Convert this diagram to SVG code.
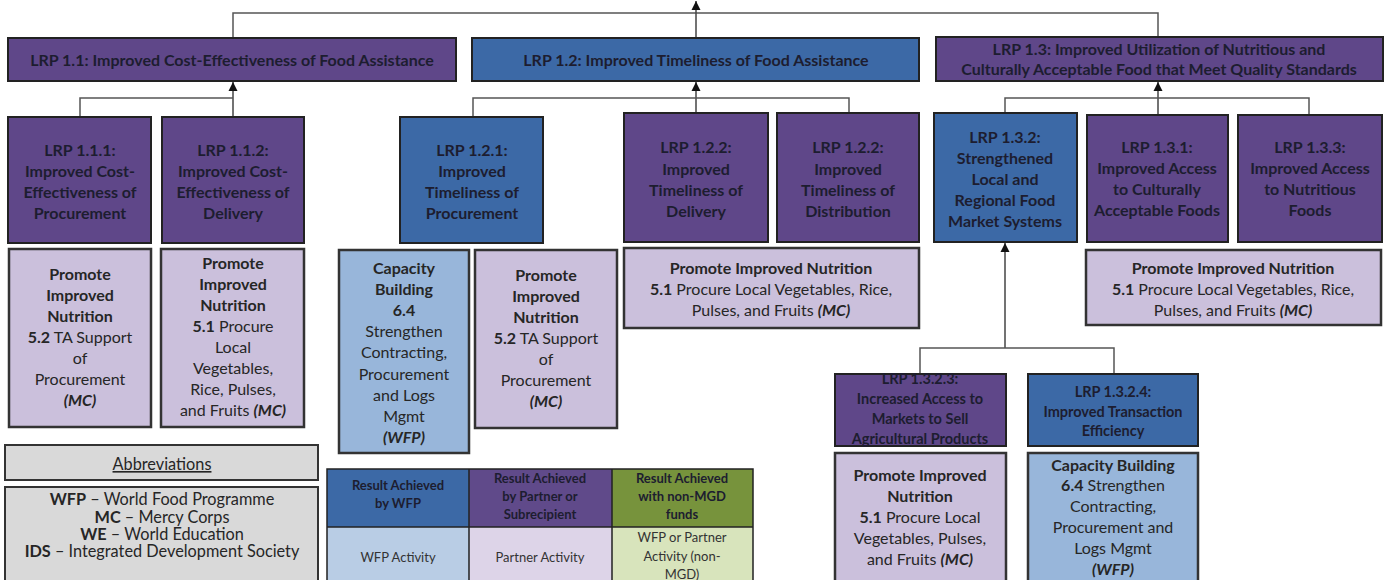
<svg xmlns="http://www.w3.org/2000/svg" width="1387" height="580" viewBox="0 0 1387 580">
<defs>
<marker id="arr" viewBox="0 0 10 10" refX="10" refY="5" markerWidth="9" markerHeight="10" markerUnits="userSpaceOnUse" orient="auto">
<path d="M0,0 L10,5 L0,10 z" fill="#111"/>
</marker>
<style>
text{font-family:Lato,"Liberation Sans",sans-serif;text-anchor:middle;fill:#1d1d30}
.b{font-weight:bold}
.bi{font-weight:bold;font-style:italic}
.l1{font-size:16px;font-weight:bold}
.l2{font-size:16px;font-weight:bold}
.l3{font-size:14.5px;font-weight:bold}
.act{font-size:16px;fill:#262626}
.abb{font-size:16.3px;fill:#262626}
.th{font-size:13px;font-weight:bold}
.td{font-size:13px;fill:#333}
.pur{fill:#5f4789;stroke:#222;stroke-width:2}
.blu{fill:#3c69a6;stroke:#222;stroke-width:2}
.lpur{fill:#cbc0dc;stroke:#333;stroke-width:2.5}
.lblu{fill:#98b6da;stroke:#333;stroke-width:2.5}
.gray{fill:#d9d9d9;stroke:#333;stroke-width:2}
.cn{fill:none;stroke:#555;stroke-width:1.5}
.ar{fill:none;stroke:#444;stroke-width:1.5;marker-end:url(#arr)}
</style>
</defs>
<rect width="1387" height="580" fill="#fff"/>

<g id="connectors">
<polyline class="cn" points="233,38 233,13 1158,13 1158,37"/>
<line class="ar" x1="696" y1="38" x2="696" y2="1"/>
<line class="ar" x1="233" y1="117" x2="233" y2="82"/>
<polyline class="cn" points="80,117 80,98 233,98"/>
<line class="ar" x1="696" y1="113" x2="696" y2="82"/>
<polyline class="cn" points="473,117 473,98 849,98 849,113"/>
<line class="ar" x1="1158" y1="115" x2="1158" y2="82"/>
<polyline class="cn" points="1005,113 1005,98 1309,98 1309,115"/>
<line class="ar" x1="1005" y1="348" x2="1005" y2="243"/>
<polyline class="cn" points="920,374 920,348 1114,348 1114,374"/>
</g>

<g id="lrp11">
<rect class="pur" x="8" y="38" width="448" height="43"/>
<text class="l1" x="232" y="66">LRP 1.1: Improved Cost-Effectiveness of Food Assistance</text>
</g>
<g id="lrp12">
<rect class="blu" x="472" y="38" width="447" height="43"/>
<text class="l1" x="696" y="66">LRP 1.2: Improved Timeliness of Food Assistance</text>
</g>
<g id="lrp13">
<rect class="pur" x="936" y="37" width="447" height="44"/>
<text class="l1" x="1159" y="55">LRP 1.3: Improved Utilization of Nutritious and</text>
<text class="l1" x="1159" y="75">Culturally Acceptable Food that Meet Quality Standards</text>
</g>

<g id="lrp111">
<rect class="pur" x="8" y="117" width="143" height="126"/>
<text class="l2" x="80" y="156">LRP 1.1.1:</text>
<text class="l2" x="80" y="177">Improved Cost-</text>
<text class="l2" x="80" y="198">Effectiveness of</text>
<text class="l2" x="80" y="219">Procurement</text>
</g>
<g id="lrp112">
<rect class="pur" x="162" y="117" width="142" height="126"/>
<text class="l2" x="233" y="156">LRP 1.1.2:</text>
<text class="l2" x="233" y="177">Improved Cost-</text>
<text class="l2" x="233" y="198">Effectiveness of</text>
<text class="l2" x="233" y="219">Delivery</text>
</g>
<g id="lrp121">
<rect class="blu" x="400" y="117" width="143" height="126"/>
<text class="l2" x="472" y="156">LRP 1.2.1:</text>
<text class="l2" x="472" y="177">Improved</text>
<text class="l2" x="472" y="198">Timeliness of</text>
<text class="l2" x="472" y="219">Procurement</text>
</g>
<g id="lrp122a">
<rect class="pur" x="624" y="113" width="144" height="129"/>
<text class="l2" x="696" y="153">LRP 1.2.2:</text>
<text class="l2" x="696" y="175">Improved</text>
<text class="l2" x="696" y="196">Timeliness of</text>
<text class="l2" x="696" y="217">Delivery</text>
</g>
<g id="lrp122b">
<rect class="pur" x="777" y="113" width="142" height="129"/>
<text class="l2" x="848" y="153">LRP 1.2.2:</text>
<text class="l2" x="848" y="175">Improved</text>
<text class="l2" x="848" y="196">Timeliness of</text>
<text class="l2" x="848" y="217">Distribution</text>
</g>
<g id="lrp132">
<rect class="blu" x="934" y="113" width="143" height="129"/>
<text class="l2" x="1005" y="143">LRP 1.3.2:</text>
<text class="l2" x="1005" y="164">Strengthened</text>
<text class="l2" x="1005" y="185">Local and</text>
<text class="l2" x="1005" y="206">Regional Food</text>
<text class="l2" x="1005" y="227">Market Systems</text>
</g>
<g id="lrp131">
<rect class="pur" x="1087" y="115" width="141" height="127"/>
<text class="l2" x="1157" y="153">LRP 1.3.1:</text>
<text class="l2" x="1157" y="174">Improved Access</text>
<text class="l2" x="1157" y="195">to Culturally</text>
<text class="l2" x="1157" y="216">Acceptable Foods</text>
</g>
<g id="lrp133">
<rect class="pur" x="1238" y="115" width="144" height="127"/>
<text class="l2" x="1310" y="153">LRP 1.3.3:</text>
<text class="l2" x="1310" y="174">Improved Access</text>
<text class="l2" x="1310" y="195">to Nutritious</text>
<text class="l2" x="1310" y="216">Foods</text>
</g>

<g id="act111">
<rect class="lpur" x="9" y="249" width="142" height="178"/>
<text class="act b" x="80" y="280">Promote</text>
<text class="act b" x="80" y="301">Improved</text>
<text class="act b" x="80" y="322">Nutrition</text>
<text class="act" x="80" y="343"><tspan class="b">5.2</tspan> TA Support</text>
<text class="act" x="80" y="364">of</text>
<text class="act" x="80" y="385">Procurement</text>
<text class="act bi" x="80" y="406">(MC)</text>
</g>
<g id="act112">
<rect class="lpur" x="161" y="249" width="143" height="178"/>
<text class="act b" x="233" y="269">Promote</text>
<text class="act b" x="233" y="290">Improved</text>
<text class="act b" x="233" y="311">Nutrition</text>
<text class="act" x="233" y="332"><tspan class="b">5.1</tspan> Procure</text>
<text class="act" x="233" y="353">Local</text>
<text class="act" x="233" y="374">Vegetables,</text>
<text class="act" x="233" y="395">Rice, Pulses,</text>
<text class="act" x="233" y="416">and Fruits <tspan class="bi">(MC)</tspan></text>
</g>
<g id="act121a">
<rect class="lblu" x="339" y="250" width="130" height="203"/>
<text class="act b" x="404" y="274">Capacity</text>
<text class="act b" x="404" y="295">Building</text>
<text class="act b" x="404" y="316">6.4</text>
<text class="act" x="404" y="337">Strengthen</text>
<text class="act" x="404" y="358">Contracting,</text>
<text class="act" x="404" y="380">Procurement</text>
<text class="act" x="404" y="401">and Logs</text>
<text class="act" x="404" y="422">Mgmt</text>
<text class="act bi" x="404" y="443">(WFP)</text>
</g>
<g id="act121b">
<rect class="lpur" x="475" y="250" width="142" height="178"/>
<text class="act b" x="546" y="281">Promote</text>
<text class="act b" x="546" y="302">Improved</text>
<text class="act b" x="546" y="323">Nutrition</text>
<text class="act" x="546" y="344"><tspan class="b">5.2</tspan> TA Support</text>
<text class="act" x="546" y="365">of</text>
<text class="act" x="546" y="386">Procurement</text>
<text class="act bi" x="546" y="407">(MC)</text>
</g>
<g id="act122">
<rect class="lpur" x="624" y="248" width="295" height="80"/>
<text class="act b" x="771" y="274">Promote Improved Nutrition</text>
<text class="act" x="771" y="295"><tspan class="b">5.1</tspan> Procure Local Vegetables, Rice,</text>
<text class="act" x="771" y="316">Pulses, and Fruits <tspan class="bi">(MC)</tspan></text>
</g>
<g id="act13">
<rect class="lpur" x="1086" y="250" width="295" height="75"/>
<text class="act b" x="1233" y="274">Promote Improved Nutrition</text>
<text class="act" x="1233" y="295"><tspan class="b">5.1</tspan> Procure Local Vegetables, Rice,</text>
<text class="act" x="1233" y="316">Pulses, and Fruits <tspan class="bi">(MC)</tspan></text>
</g>

<g id="lrp1323">
<rect class="pur" x="835" y="374" width="171" height="72"/>
<text class="l3" x="920" y="384">LRP 1.3.2.3:</text>
<text class="l3" x="920" y="404">Increased Access to</text>
<text class="l3" x="920" y="424">Markets to Sell</text>
<text class="l3" x="920" y="444">Agricultural Products</text>
</g>
<g id="lrp1324">
<rect class="blu" x="1028" y="374" width="170" height="72"/>
<text class="l3" x="1113" y="397">LRP 1.3.2.4:</text>
<text class="l3" x="1113" y="417">Improved Transaction</text>
<text class="l3" x="1113" y="436">Efficiency</text>
</g>
<g id="act1323">
<rect class="lpur" x="835" y="453" width="171" height="132"/>
<text class="act b" x="920" y="481">Promote Improved</text>
<text class="act b" x="920" y="502">Nutrition</text>
<text class="act" x="920" y="523"><tspan class="b">5.1</tspan> Procure Local</text>
<text class="act" x="920" y="544">Vegetables, Pulses,</text>
<text class="act" x="920" y="565">and Fruits <tspan class="bi">(MC)</tspan></text>
</g>
<g id="act1324">
<rect class="lblu" x="1028" y="453" width="170" height="132"/>
<text class="act b" x="1113" y="471">Capacity Building</text>
<text class="act" x="1113" y="491"><tspan class="b">6.4</tspan> Strengthen</text>
<text class="act" x="1113" y="512">Contracting,</text>
<text class="act" x="1113" y="533">Procurement and</text>
<text class="act" x="1113" y="554">Logs Mgmt</text>
<text class="act bi" x="1113" y="575">(WFP)</text>
</g>

<g id="abbrev-title">
<rect class="gray" x="5" y="445" width="313" height="35"/>
<text class="abb" x="162" y="470" text-decoration="underline">Abbreviations</text>
</g>
<g id="abbrev-list">
<rect class="gray" x="5" y="487" width="313" height="100"/>
<text class="abb" x="162" y="505"><tspan class="b">WFP</tspan> – World Food Programme</text>
<text class="abb" x="162" y="523"><tspan class="b">MC</tspan> – Mercy Corps</text>
<text class="abb" x="162" y="540"><tspan class="b">WE</tspan> – World Education</text>
<text class="abb" x="162" y="557"><tspan class="b">IDS</tspan> – Integrated Development Society</text>
</g>

<g id="legend">
<rect x="327" y="469" width="142" height="58" fill="#3c69a6"/>
<rect x="469" y="469" width="143" height="58" fill="#604a8a"/>
<rect x="612" y="469" width="141" height="58" fill="#77933c"/>
<rect x="327" y="527" width="142" height="60" fill="#b9cde5"/>
<rect x="469" y="527" width="143" height="60" fill="#ddd4e8"/>
<rect x="612" y="527" width="141" height="60" fill="#d8e4bc"/>
<path d="M327,469 H753 V587 H327 Z M469,469 V587 M612,469 V587 M327,527 H753" fill="none" stroke="#222" stroke-width="1.5"/>
<text class="th" x="398" y="490">Result Achieved</text>
<text class="th" x="398" y="508">by WFP</text>
<text class="th" x="540" y="483">Result Achieved</text>
<text class="th" x="540" y="501">by Partner or</text>
<text class="th" x="540" y="519">Subrecipient</text>
<text class="th" x="682" y="483">Result Achieved</text>
<text class="th" x="682" y="501">with non-MGD</text>
<text class="th" x="682" y="519">funds</text>
<text class="td" x="398" y="562">WFP Activity</text>
<text class="td" x="540" y="562">Partner Activity</text>
<text class="td" x="682" y="542">WFP or Partner</text>
<text class="td" x="682" y="561">Activity (non-</text>
<text class="td" x="682" y="579">MGD)</text>
</g>
</svg>
